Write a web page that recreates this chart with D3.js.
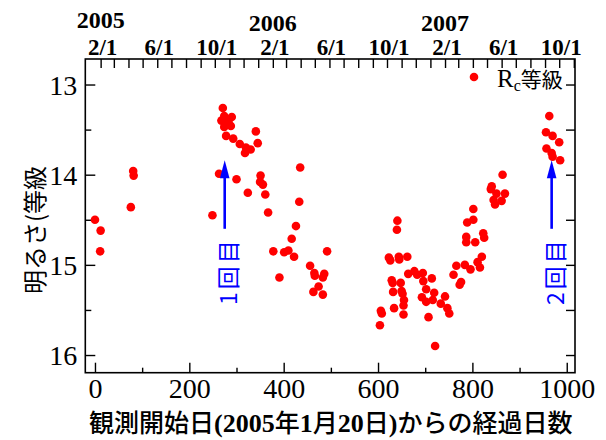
<!DOCTYPE html>
<html>
<head>
<meta charset="utf-8">
<script src="https://cdn.jsdelivr.net/npm/d3@7"></script>
<style>
  html, body { margin: 0; padding: 0; background: #fff; }
  svg { display: block; }
</style>
</head>
<body>
<svg id="chart" width="606" height="440"></svg>
<script>
// Rc-band photometry: days since 2005-01-20 and magnitude
const obsDays = [
  0, 12, 11, 76, 81, 82,
  249, 263, 300, 324, 318, 271, 274, 290, 268, 279, 288, 274, 283, 278,
  293, 307, 320, 330, 341, 345, 351, 350, 356, 361, 367,
  435, 433, 426, 417, 378, 401, 410, 422, 492, 391,
  456, 465, 466, 486, 483, 474, 463, 483,
  641, 640, 623, 626, 644, 645, 662, 629, 631, 648, 664, 677, 683, 695, 696, 714,
  632, 650, 652, 655, 654, 634, 654, 606, 608, 604,
  702, 693, 702, 719, 716, 707, 733, 742, 747, 751, 721,
  760, 766, 773, 776, 784, 796, 811, 820, 816, 787, 787, 806, 823, 825,
  789, 802, 802, 841, 839, 851, 869, 845, 848, 862, 864,
  963, 956, 970, 984, 957, 968, 986, 970
];
const rcMag = [
  14.50, 14.62, 14.85, 14.36, 13.96, 14.01,
  14.45, 13.99, 14.05, 14.20, 13.76, 13.26, 13.35, 13.36, 13.40, 13.42, 13.46, 13.47, 13.41, 13.57,
  13.60, 13.66, 13.70, 13.72, 13.52, 13.65, 14.01, 14.08, 14.11, 14.22, 14.42,
  13.92, 14.30, 14.57, 14.71, 14.85, 14.86, 14.84, 14.91, 14.85, 15.14,
  15.01, 15.09, 15.12, 15.10, 15.14, 15.24, 15.30, 15.33,
  14.51, 14.61, 14.92, 14.95, 14.91, 14.94, 14.91, 15.17, 15.20, 15.20, 15.10, 15.07, 15.11, 15.09, 15.18, 15.15,
  15.30, 15.29, 15.32, 15.39, 15.45, 15.48, 15.55, 15.51, 15.54, 15.67,
  15.27, 15.36, 15.41, 15.31, 15.39, 15.58, 15.43, 15.35, 15.48, 15.54, 15.90,
  15.11, 15.01, 15.22, 15.19, 15.00, 15.05, 14.97, 14.91, 15.03, 14.75, 14.69, 14.75, 14.65, 14.70,
  14.53, 14.50, 14.38, 14.13, 14.16, 14.21, 14.21, 14.28, 14.33, 14.29, 14.00,
  13.35, 13.53, 13.57, 13.64, 13.71, 13.76, 13.84, 13.80
];

// axis ticks
const dayTicks = [0, 200, 400, 600, 800, 1000];
const dayMinorTicks = [100, 300, 500, 700, 900];
const magTicks = [13, 14, 15, 16];
const magMinorTicks = [13.5, 14.5, 15.5];

// calendar axis along the top
const startDateStr = "2005-01-20";
const monthTickFrom = "2005-02-01";
const monthTickTo = "2007-11-02";
const monthLabelDates = ["2005-02-01", "2005-06-01", "2005-10-01", "2006-02-01", "2006-06-01",
                         "2006-10-01", "2007-02-01", "2007-06-01", "2007-10-01"];
const monthLabelText = ["2/1", "6/1", "10/1", "2/1", "6/1", "10/1", "2/1", "6/1", "10/1"];
const yearLabelDates = ["2005-02-01", "2006-02-01", "2007-02-01"];
const yearLabelText = ["2005", "2006", "2007"];

// outburst markers
const outburstDays = [275, 968];
const outburstText = ["1回目", "2回目"];

const SERIF = "'Liberation Serif', 'Times New Roman', serif";
const CJK = "'Noto Sans CJK JP', 'Noto Sans', sans-serif";

const svg = d3.select("#chart");
const plotL = 85.3, plotR = 575, plotT = 59, plotB = 372.7;

const x = d3.scaleLinear().domain([-20.5, 1017.5]).range([plotL, plotR]);
const y = d3.scaleLinear().domain([12.717, 16.196]).range([plotT, plotB]);

const parse = d3.timeParse("%Y-%m-%d");
const t0 = parse(startDateStr);
const dayOf = d => d3.timeDay.count(t0, d);

function styleAxis(g) {
  g.select(".domain").remove();
  g.selectAll(".tick line").attr("stroke", "#000").attr("stroke-width", 1.4);
}

// bottom axis
svg.append("g")
  .attr("transform", `translate(0,${plotB})`)
  .call(d3.axisBottom(x).tickValues(dayTicks).tickSize(-10).tickPadding(6).tickFormat(d3.format("d")))
  .call(styleAxis)
  .call(g => g.selectAll(".tick text")
    .attr("font-family", SERIF).attr("font-size", 28).attr("fill", "#000")
    .attr("y", 25.5).attr("dy", 0));
svg.append("g")
  .attr("transform", `translate(0,${plotB})`)
  .call(d3.axisBottom(x).tickValues(dayMinorTicks).tickSize(-5).tickFormat(""))
  .call(styleAxis);

// left axis
svg.append("g")
  .attr("transform", `translate(${plotL},0)`)
  .call(d3.axisLeft(y).tickValues(magTicks).tickSize(-10).tickPadding(8).tickFormat(d3.format("d")))
  .call(styleAxis)
  .call(g => g.selectAll(".tick text")
    .attr("font-family", SERIF).attr("font-size", 28).attr("fill", "#000").attr("dy", "0.34em"));
svg.append("g")
  .attr("transform", `translate(${plotL},0)`)
  .call(d3.axisLeft(y).tickValues(magMinorTicks).tickSize(-6).tickFormat(""))
  .call(styleAxis);

// right axis
svg.append("g")
  .attr("transform", `translate(${plotR},0)`)
  .call(d3.axisRight(y).tickValues(magTicks.concat(magMinorTicks)).tickSize(-9).tickFormat(""))
  .call(styleAxis);

// top calendar axis: monthly ticks
const xDate = d => x(dayOf(d));
const months = d3.timeMonth.range(parse(monthTickFrom), parse(monthTickTo));
svg.append("g")
  .attr("transform", `translate(0,${plotT})`)
  .call(d3.axisTop(x).tickValues(months.map(dayOf)).tickSize(-9).tickFormat(""))
  .call(styleAxis);

svg.append("g").selectAll("text")
  .data(monthLabelDates)
  .join("text")
  .attr("x", d => xDate(parse(d)) + 2)
  .attr("y", 55)
  .attr("text-anchor", "middle")
  .attr("font-family", SERIF).attr("font-weight", "bold").attr("font-size", 23)
  .text((d, i) => monthLabelText[i]);

svg.append("g").selectAll("text")
  .data(yearLabelDates)
  .join("text")
  .attr("x", d => xDate(parse(d)))
  .attr("y", (d, i) => i === 0 ? 28 : 31)
  .attr("text-anchor", "middle")
  .attr("font-family", SERIF).attr("font-weight", "bold").attr("font-size", 24)
  .text((d, i) => yearLabelText[i]);

// frame
svg.append("rect")
  .attr("x", plotL).attr("y", plotT)
  .attr("width", plotR - plotL).attr("height", plotB - plotT)
  .attr("fill", "none").attr("stroke", "#000").attr("stroke-width", 1.6);

// observations
svg.append("g").selectAll("circle")
  .data(obsDays)
  .join("circle")
  .attr("cx", d => x(d))
  .attr("cy", (d, i) => y(rcMag[i]))
  .attr("r", 4.3)
  .attr("fill", "#ff0000");

// outburst arrows and labels
const arrows = svg.append("g");
outburstDays.forEach((d, i) => {
  const ax = x(d);
  const tipY = y(13.84), baseY = y(14.6);
  arrows.append("line")
    .attr("x1", ax).attr("x2", ax)
    .attr("y1", baseY).attr("y2", tipY + 14)
    .attr("stroke", "#0000ff").attr("stroke-width", 2.6);
  arrows.append("path")
    .attr("d", `M${ax},${tipY} L${ax - 4.8},${tipY + 18} L${ax + 4.8},${tipY + 18} Z`)
    .attr("fill", "#0000ff");
  arrows.append("text")
    .attr("transform", `translate(${ax + 2},${y(15.07)}) rotate(-90)`)
    .attr("text-anchor", "middle")
    .attr("dominant-baseline", "central")
    .attr("font-family", CJK).attr("font-size", 23).attr("letter-spacing", 3)
    .attr("fill", "#0000ff")
    .text(outburstText[i]);
});

// legend
const lg = svg.append("g");
lg.append("circle").attr("cx", 474).attr("cy", 77).attr("r", 4.3).attr("fill", "#ff0000");
const lt = lg.append("text").attr("x", 497).attr("y", 87).attr("fill", "#000");
lt.append("tspan").attr("font-family", SERIF).attr("font-size", 25).text("R");
lt.append("tspan").attr("font-family", SERIF).attr("font-size", 16).attr("dy", 4).text("c");
lt.append("tspan").attr("font-family", CJK).attr("font-size", 21).attr("dy", -4).text("等級");

// y-axis title
svg.append("text")
  .attr("transform", "translate(33,230) rotate(-90)")
  .attr("text-anchor", "middle")
  .attr("dominant-baseline", "central")
  .attr("font-family", CJK).attr("font-size", 24).attr("fill", "#000")
  .text("明るさ(等級");

// x-axis title
const xt = svg.append("text").attr("x", 89).attr("y", 432).attr("fill", "#000");
const parts = [
  ["観測開始日", "cjk"], ["(2005", "serif"], ["年", "cjk"], ["1", "serif"], ["月", "cjk"],
  ["20", "serif"], ["日", "cjk"], [")", "serif"], ["からの経過日数", "cjk"]
];
parts.forEach(([s, f]) => {
  const ts = xt.append("tspan").text(s);
  if (f === "cjk") ts.attr("font-family", CJK).attr("font-size", 25).attr("font-weight", 500);
  else ts.attr("font-family", SERIF).attr("font-size", 26).attr("font-weight", "bold");
});
</script>
</body>
</html>
